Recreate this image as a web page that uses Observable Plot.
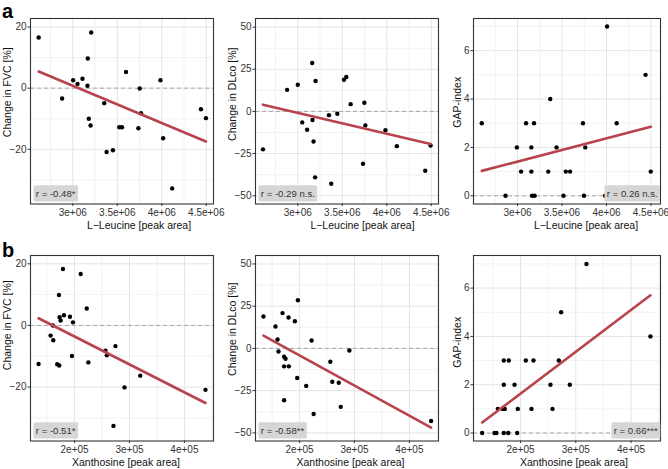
<!DOCTYPE html>
<html><head><meta charset="utf-8">
<script src="https://cdn.jsdelivr.net/npm/d3@7"></script>
<script src="https://cdn.jsdelivr.net/npm/@observablehq/plot@0.6"></script>
<style>
body{margin:0;background:#fff;}
#fig{position:relative;width:668px;height:469px;overflow:hidden;background:#fff;}
#fig svg.panel{position:absolute;}
</style></head>
<body><div id="fig"></div>
<script>
// ---------- data ----------
// Row a: L-Leucine [peak area]
const leucineFVC = [2.617e6, 2.88e6, 3.004e6, 3.053e6, 3.109e6, 3.165e6, 3.169e6, 3.18e6, 3.2e6, 3.207e6, 3.353e6, 3.38e6, 3.451e6, 3.523e6, 3.553e6, 3.598e6, 3.737e6, 3.752e6, 3.767e6, 3.985e6, 4.015e6, 4.117e6, 4.44e6, 4.496e6];
const fvcLeucine = [16.6, -3.4, 2.6, 1.4, 3.1, 0.8, 9.7, -10.0, -12.2, 18.2, -4.9, -20.9, -20.3, -12.8, -12.8, 5.3, -13.1, -0.1, -8.2, 2.6, -16.4, -32.8, -6.9, -9.8];
const leucineDLco = [2.609e6, 2.88e6, 3.0e6, 3.05e6, 3.105e6, 3.162e6, 3.165e6, 3.177e6, 3.195e6, 3.2e6, 3.35e6, 3.376e6, 3.444e6, 3.519e6, 3.545e6, 3.594e6, 3.733e6, 3.748e6, 3.759e6, 3.985e6, 4.113e6, 4.432e6, 4.492e6];
const dlcoLeucine = [-22.5, 12.8, 15.8, -6.5, -10.9, 28.7, -5.1, -17.8, -39.1, 18.0, -2.2, -42.9, -1.4, 18.8, 20.4, 4.3, -31.0, 5.1, -8.3, -11.1, -20.6, -35.2, -20.2];
const leucineGAP = [2.599e6, 2.866e6, 2.993e6, 3.041e6, 3.097e6, 3.156e6, 3.156e6, 3.164e6, 3.186e6, 3.193e6, 3.346e6, 3.368e6, 3.439e6, 3.517e6, 3.543e6, 3.591e6, 3.736e6, 3.747e6, 3.762e6, 3.985e6, 4.007e6, 4.115e6, 4.439e6, 4.498e6];
const gapLeucine = [3, 0, 2, 1, 3, 2, 1, 0, 3, 0, 1, 4, 2, 0, 1, 1, 3, 0, 2, 0, 7, 3, 5, 1];

// Row b: Xanthosine [peak area]
const xanthosineFVC = [1.344e5, 1.563e5, 1.605e5, 1.611e5, 1.684e5, 1.715e5, 1.72e5, 1.727e5, 1.745e5, 1.788e5, 1.806e5, 1.916e5, 1.952e5, 1.971e5, 2.111e5, 2.221e5, 2.251e5, 2.562e5, 2.587e5, 2.708e5, 2.744e5, 2.909e5, 3.196e5, 4.384e5];
const fvcXanthosine = [-12.5, -3.3, 0.0, -4.8, -12.6, 9.9, -13.0, 2.7, 1.6, 18.3, 3.3, 2.8, -9.9, 1.0, 16.7, 5.5, -12.0, -8.2, -9.7, -32.6, -6.7, -20.1, -16.3, -20.9];
const xanthosineDLco = [1.342e5, 1.561e5, 1.598e5, 1.616e5, 1.689e5, 1.718e5, 1.718e5, 1.718e5, 1.744e5, 1.799e5, 1.804e5, 1.914e5, 1.956e5, 1.969e5, 2.121e5, 2.219e5, 2.256e5, 2.56e5, 2.596e5, 2.713e5, 2.75e5, 2.907e5, 4.395e5];
const dlcoXanthosine = [18.9, 13.0, 5.3, -1.8, 20.9, -4.9, -10.6, -30.7, -6.1, 18.3, -10.6, 16.1, -17.5, 28.5, -22.2, 4.7, -38.8, -7.9, -19.7, -20.3, -34.6, -1.2, -43.0];
const xanthosineGAP = [1.307e5, 1.53e5, 1.566e5, 1.59e5, 1.68e5, 1.698e5, 1.698e5, 1.698e5, 1.716e5, 1.778e5, 1.788e5, 1.892e5, 1.94e5, 1.951e5, 2.096e5, 2.199e5, 2.235e5, 2.542e5, 2.579e5, 2.693e5, 2.735e5, 2.892e5, 3.193e5, 4.35e5];
const gapXanthosine = [0, 0, 0, 1, 1, 0, 2, 3, 1, 0, 3, 2, 0, 1, 3, 1, 3, 2, 1, 3, 5, 2, 7, 4];

// correlation labels
const rLabels = ["r = -0.48*", "r = -0.29 n.s.", "r = 0.26 n.s.", "r = -0.51*", "r = -0.58**", "r = 0.66***"];

// ticks
const leucineTicks = [3e6, 3.5e6, 4e6, 4.5e6];
const leucineTickLabels = ["3e+06", "3.5e+06", "4e+06", "4.5e+06"];
const leucineMinor = [2.75e6, 3.25e6, 3.75e6, 4.25e6];
const xanthosineTicks = [2e5, 3e5, 4e5];
const xanthosineTickLabels = ["2e+05", "3e+05", "4e+05"];
const xanthosineMinor = [1.5e5, 2.5e5, 3.5e5, 4.5e5];
const fvcTicks = [-20, 0, 20], fvcMinor = [-30, -10, 10];
const dlcoTicks = [-50, -25, 0, 25, 50], dlcoMinor = [-37.5, -12.5, 12.5, 37.5];
const gapTicks = [0, 2, 4, 6], gapMinor = [1, 3, 5, 7];

const FONT = '"Liberation Sans", Arial, Helvetica, sans-serif';
const fig = document.getElementById("fig");

function build(cfg) {
  const [L, R, T, B] = cfg.frame;
  const mL = 36, mR = 12, mT = 6, mB = 36;
  const data = cfg.x.map((x, i) => ({x, y: cfg.y[i]})).filter(d => d.y != null);
  const fmtY = d => d < 0 ? "\u2212" + (-d) : String(d);
  const left = cfg.rSide === "left";
  const svg = Plot.plot({
    width: R - L + mL + mR, height: B - T + mT + mB,
    marginLeft: mL, marginRight: mR, marginTop: mT, marginBottom: mB,
    style: {fontFamily: FONT, fontSize: "10px", color: "#333", background: "none", overflow: "visible"},
    x: {domain: cfg.xDomain},
    y: {domain: cfg.yDomain},
    marks: [
      Plot.ruleX(cfg.xMinor, {stroke: "#ededed", strokeWidth: 0.7}),
      Plot.ruleY(cfg.yMinor, {stroke: "#ededed", strokeWidth: 0.7}),
      Plot.ruleX(cfg.xTicks, {stroke: "#e4e4e4", strokeWidth: 1}),
      Plot.ruleY(cfg.yTicks, {stroke: "#e4e4e4", strokeWidth: 1}),
      Plot.ruleY([0], {stroke: "#a8a8a8", strokeWidth: 1, strokeDasharray: "4,3"}),
      Plot.dot(data, {x: "x", y: "y", r: 2.2, fill: "#000", stroke: "none"}),
      Plot.linearRegressionY(data, {x: "x", y: "y", stroke: "#b8434f", strokeWidth: 2.6, ci: 0}),
      Plot.frame({stroke: "#333", strokeWidth: 1.1}),
      Plot.axisX({ticks: cfg.xTicks, tickFormat: d => cfg.xTickLabels[cfg.xTicks.indexOf(d)], tickSize: 2.5, tickPadding: 2, label: null, fontSize: 10}),
      Plot.axisY({ticks: cfg.yTicks, tickFormat: fmtY, tickSize: 2.5, tickPadding: 1.5, label: null, fontSize: 10}),
      Plot.text([cfg.xLabel], {frameAnchor: "bottom", dx: cfg.xShift, dy: 22, text: d => d, fontSize: 10.5, fill: "#111", textAnchor: "middle", lineAnchor: "middle"}),
      Plot.text([cfg.yLabel], {frameAnchor: "left", dx: -cfg.yLabelOffset, dy: cfg.yShift, rotate: -90, text: d => d, fontSize: 10.5, fill: "#111", textAnchor: "middle", lineAnchor: "middle"}),
      Plot.text([cfg.rText], {frameAnchor: left ? "bottom-left" : "bottom-right", dx: left ? 5.3 : -2.8, dy: -10.2, text: d => d, textAnchor: left ? "start" : "end", lineAnchor: "middle", fontSize: 9.6, fill: "#333"})
    ]
  });
  svg.classList.add("panel");
  svg.style.left = (L - mL) + "px";
  svg.style.top = (T - mT) + "px";
  fig.appendChild(svg);
  // grey box behind the correlation label, sized from the text's own bounding box
  Array.from(svg.querySelectorAll("text")).filter(t => t.textContent === cfg.rText).forEach(t => {
    const b = t.getBBox();
    const rect = document.createElementNS("http://www.w3.org/2000/svg", "rect");
    rect.setAttribute("x", b.x - 2.3);
    rect.setAttribute("y", b.y - 2.6);
    rect.setAttribute("width", b.width + 4.6);
    rect.setAttribute("height", b.height + 5.2);
    rect.setAttribute("rx", 1.5);
    rect.setAttribute("fill", "#d6d6d6");
    rect.setAttribute("stroke", "none");
    if (t.getAttribute("transform")) rect.setAttribute("transform", t.getAttribute("transform"));
    t.parentNode.insertBefore(rect, t);
  });
}

const leuX = {xTicks: leucineTicks, xTickLabels: leucineTickLabels, xMinor: leucineMinor, xLabel: "L\u2212Leucine [peak area]"};
const xanX = {xTicks: xanthosineTicks, xTickLabels: xanthosineTickLabels, xMinor: xanthosineMinor, xLabel: "Xanthosine [peak area]"};
const fvcY = {yTicks: fvcTicks, yMinor: fvcMinor, yLabel: "Change in FVC [%]", yLabelOffset: 23.3, rSide: "left"};
const dlcoY = {yTicks: dlcoTicks, yMinor: dlcoMinor, yLabel: "Change in DLco [%]", yLabelOffset: 23, rSide: "left"};
const gapY = {yTicks: gapTicks, yMinor: gapMinor, yLabel: "GAP-index", yLabelOffset: 16, rSide: "right"};

build({...leuX, ...fvcY, x: leucineFVC, y: fvcLeucine, rText: rLabels[0], frame: [30, 213, 18, 203.5], xDomain: [2.525e6, 4.581e6], yDomain: [-37.9, 22.8], xShift: 17, yShift: -19});
build({...leuX, ...dlcoY, x: leucineDLco, y: dlcoLeucine, rText: rLabels[1], frame: [255, 438, 18, 203.5], xDomain: [2.525e6, 4.581e6], yDomain: [-54.9, 55.1], xShift: 15.5, yShift: -17});
build({...leuX, ...gapY, x: leucineGAP, y: gapLeucine, rText: rLabels[2], frame: [473, 660, 18, 203.5], xDomain: [2.506e6, 4.607e6], yDomain: [-0.34, 7.33], xShift: 19, yShift: -9});
build({...xanX, ...fvcY, x: xanthosineFVC, y: fvcXanthosine, rText: rLabels[3], frame: [30, 213, 255, 440.5], xDomain: [1.197e5, 4.53e5], yDomain: [-37.5, 22.7], xShift: 4, yShift: -23});
build({...xanX, ...dlcoY, x: xanthosineDLco, y: dlcoXanthosine, rText: rLabels[4], frame: [255, 438, 255, 440.5], xDomain: [1.197e5, 4.53e5], yDomain: [-54.8, 55], xShift: 3.5, yShift: -19});
build({...xanX, ...gapY, x: xanthosineGAP, y: gapXanthosine, rText: rLabels[5], frame: [473, 660, 255, 440.5], xDomain: [1.15e5, 4.532e5], yDomain: [-0.33, 7.35], xShift: 7, yShift: -6});

// panel tags
const tags = document.createElementNS("http://www.w3.org/2000/svg", "svg");
tags.setAttribute("width", 668); tags.setAttribute("height", 469);
tags.style.position = "absolute"; tags.style.left = "0"; tags.style.top = "0"; tags.style.pointerEvents = "none";
[["a", 2, 18.2], ["b", 2, 256.5]].forEach(([s, x, y]) => {
  const t = document.createElementNS("http://www.w3.org/2000/svg", "text");
  t.setAttribute("x", x); t.setAttribute("y", y);
  t.setAttribute("font-family", FONT); t.setAttribute("font-size", 20); t.setAttribute("font-weight", "bold");
  t.textContent = s;
  tags.appendChild(t);
});
fig.appendChild(tags);
</script>
</body></html>
